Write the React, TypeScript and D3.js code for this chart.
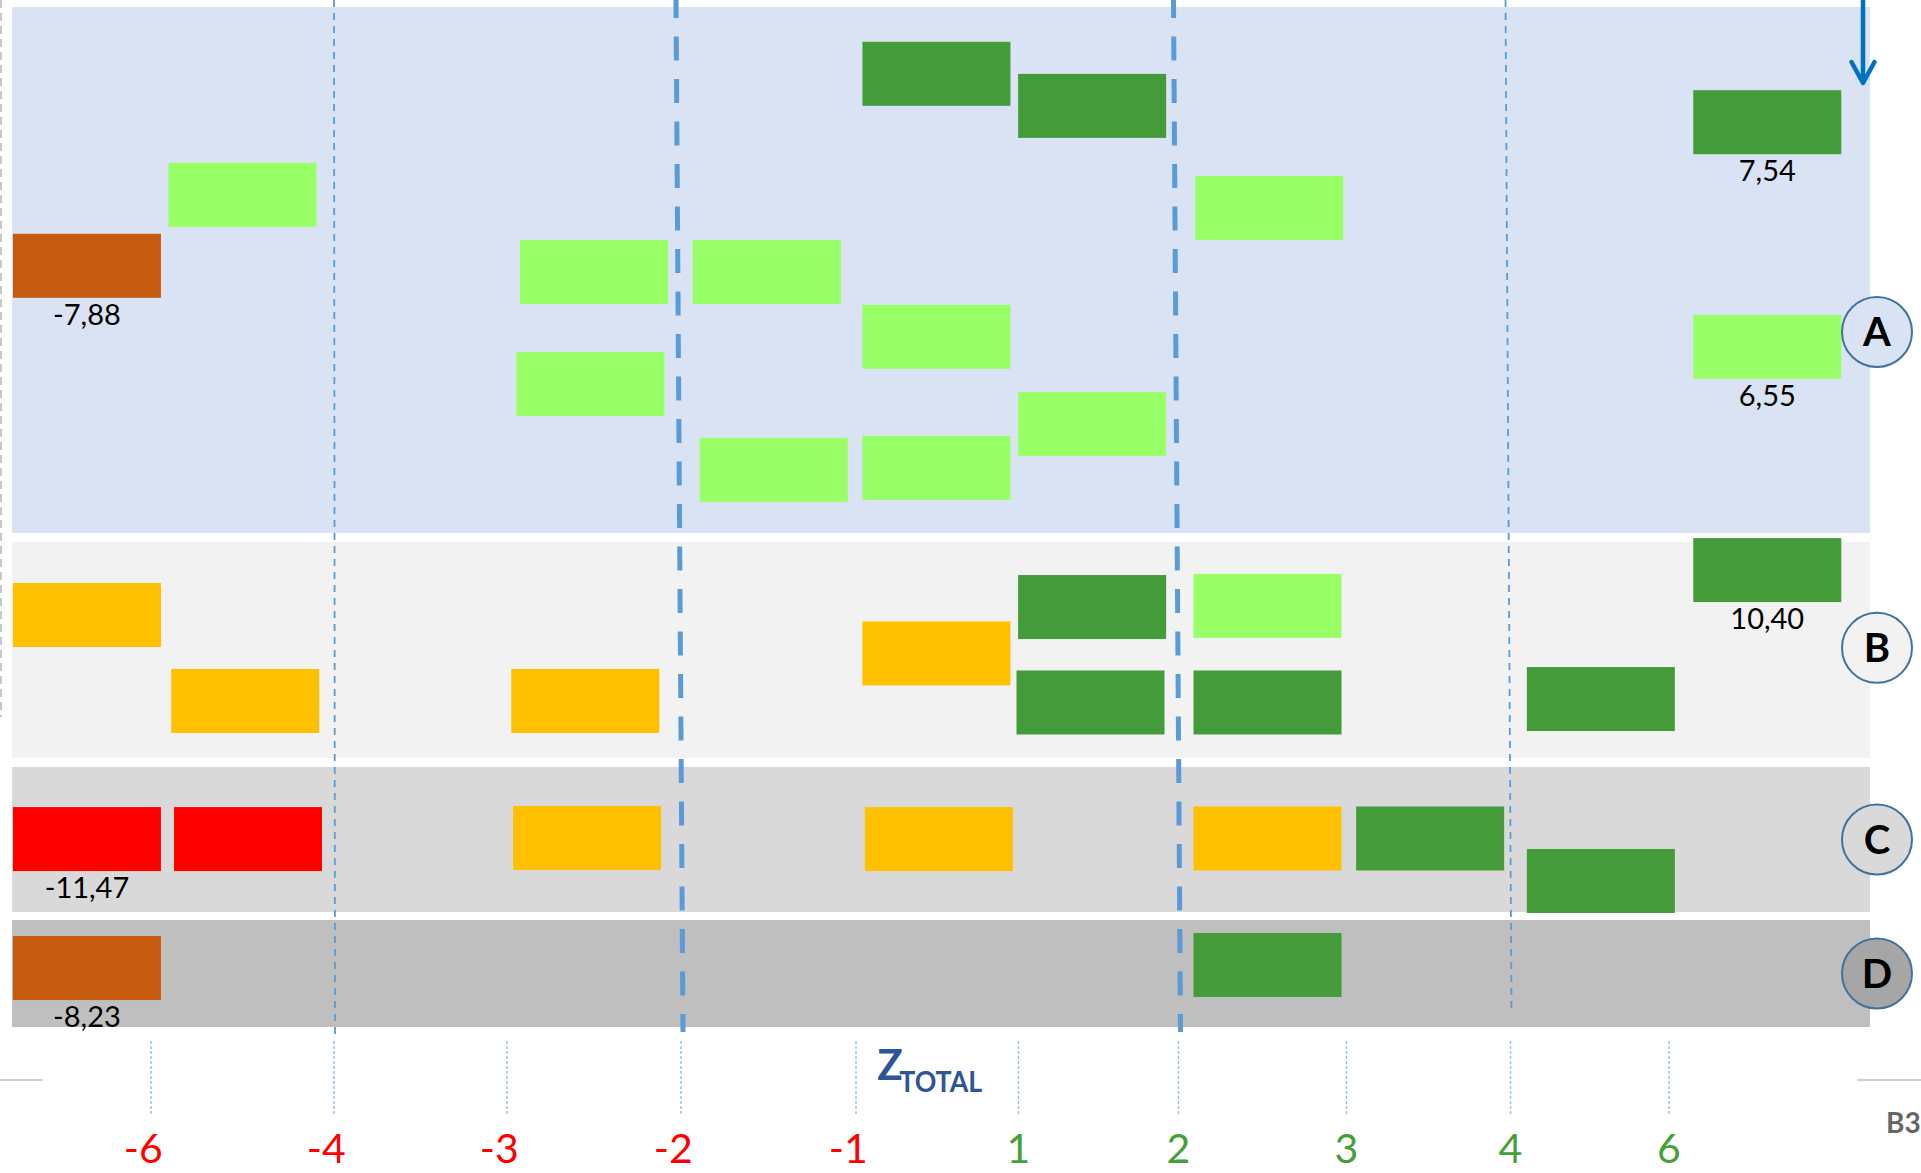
import React from "react";
import * as d3 from "d3";

// ---- data ----
const rows = ["A", "B", "C", "D"];
const tickValues = [-6, -4, -3, -2, -1, 1, 2, 3, 4, 6];
const strongCuts = [-2, 2];
const weakCuts = [-4, 4];

// grade: 1 red, 2 brown, 3 amber, 4 light green, 5 dark green
// lane: vertical place of the box centre inside its row (0 top .. 1 bottom)
const rowA = [
  { z: -5.0, lane: 0.357, grade: 4 },
  { z: -7.88, lane: 0.492, grade: 2, shown: true },
  { z: -2.5, lane: 0.504, grade: 4 },
  { z: -1.51, lane: 0.504, grade: 4 },
  { z: -2.52, lane: 0.717, grade: 4 },
  { z: -1.47, lane: 0.88, grade: 4 },
  { z: -0.01, lane: 0.876, grade: 4 },
  { z: -0.01, lane: 0.627, grade: 4 },
  { z: -0.01, lane: 0.127, grade: 5 },
  { z: 1.46, lane: 0.188, grade: 5 },
  { z: 1.46, lane: 0.793, grade: 4 },
  { z: 2.54, lane: 0.382, grade: 4 },
  { z: 7.54, lane: 0.219, grade: 5, shown: true },
  { z: 6.55, lane: 0.646, grade: 4, shown: true },
];
const rowB = [
  { z: -6.69, lane: 0.338, grade: 3 },
  { z: -4.97, lane: 0.736, grade: 3 },
  { z: -2.55, lane: 0.736, grade: 3 },
  { z: -0.01, lane: 0.516, grade: 3 },
  { z: 1.46, lane: 0.301, grade: 5 },
  { z: 1.45, lane: 0.743, grade: 5 },
  { z: 2.53, lane: 0.296, grade: 4 },
  { z: 2.53, lane: 0.743, grade: 5 },
  { z: 5.14, lane: 0.727, grade: 5 },
  { z: 10.4, lane: 0.13, grade: 5, shown: true },
];
const rowC = [
  { z: -11.47, lane: 0.497, grade: 1, shown: true },
  { z: -4.94, lane: 0.497, grade: 1 },
  { z: -2.54, lane: 0.49, grade: 3 },
  { z: 0.02, lane: 0.497, grade: 3 },
  { z: 2.53, lane: 0.493, grade: 3 },
  { z: 3.51, lane: 0.493, grade: 5 },
  { z: 5.14, lane: 0.786, grade: 5 },
];
const rowD = [
  { z: -8.23, lane: 0.449, grade: 2, shown: true },
  { z: 2.53, lane: 0.42, grade: 5 },
];
const boxesByRow = [rowA, rowB, rowC, rowD];

// ---- layout / style ----
const W = 1921;
const H = 1173;
const tickStops = [151, 334, 507, 681, 856, 1018.5, 1178.5, 1346.5, 1510.5, 1669];
const overflowLo = -6.7; // slot used for anything below -6
const overflowHi = 7.24; // slot used for anything above 6
const bandLeft = 12;
const bandRight = 1870;
const rowExtents = [
  [7, 533],
  [542, 758],
  [767, 912],
  [920, 1027],
];
const rowFills = ["#DAE3F3", "#F2F2F2", "#D9D9D9", "#BFBFBF"];
const badgeFills = ["#DAE3F3", "#F2F2F2", "#D9D9D9", "#A6A6A6"];
const badgeAt = [0.618, 0.49, 0.5, 0.5];
const gradeColors = { 1: "#FF0000", 2: "#C55A11", 3: "#FFC000", 4: "#99FF66", 5: "#449B3A" };
const boxW = 148;
const boxH = 64;
const font = "Lato, 'Open Sans', sans-serif";
const tickFont = 41;

const fmt = d3
  .formatLocale({ decimal: ",", thousands: ".", grouping: [3], currency: ["", ""], minus: "-" })
  .format(".2f");

export default function App() {
  const x = d3.scaleLinear().domain(tickValues).range(tickStops);
  const xPos = (z: number) => (z < -6 ? x(overflowLo) : z > 6 ? x(overflowHi) : x(z));
  const rowY = rows.map((_, i) => d3.scaleLinear().domain([0, 1]).range(rowExtents[i]));

  const axisTop = 1041;
  const axisBottom = 1116;
  const cutBottom = 1032;
  const halfDigit = tickFont * 0.29;

  return (
    <svg
      width={W}
      height={H}
      style={{ position: "absolute", left: 0, top: 0, background: "#fff" }}
      fontFamily={font}
    >
      {/* faint page guides */}
      <line x1={1} x2={1} y1={0} y2={717} stroke="#C8C8C8" strokeWidth={2} strokeDasharray="8,5" />
      <line x1={0} x2={43} y1={1080} y2={1080} stroke="#D0D0D0" strokeWidth={2} />
      <line x1={1857} x2={W} y1={1080} y2={1080} stroke="#D0D0D0" strokeWidth={2} />

      {/* row bands */}
      {rows.map((r, i) => (
        <rect
          key={r}
          x={bandLeft}
          y={rowExtents[i][0]}
          width={bandRight - bandLeft}
          height={rowExtents[i][1] - rowExtents[i][0]}
          fill={rowFills[i]}
        />
      ))}

      {/* weak cut lines */}
      {weakCuts.map((v) => (
        <line
          key={v}
          x1={x(v) - (v > 0 ? 5 : 0)}
          x2={x(v) + 1}
          y1={0}
          y2={v > 0 ? 1012 : 1038}
          stroke="#5B9BD5"
          strokeWidth={1.8}
          strokeDasharray="7,6"
        />
      ))}

      {/* boxes */}
      {boxesByRow.map((list, ri) =>
        list.map((d, i) => {
          const cx = xPos(d.z);
          const cy = rowY[ri](d.lane);
          return (
            <g key={`${rows[ri]}-${i}`}>
              <rect
                x={cx - boxW / 2}
                y={cy - boxH / 2}
                width={boxW}
                height={boxH}
                fill={gradeColors[d.grade]}
              />
              {d.shown && (
                <text x={cx} y={cy + boxH / 2 + 27} textAnchor="middle" fontSize={29} fill="#000">
                  {fmt(d.z)}
                </text>
              )}
            </g>
          );
        })
      )}

      {/* strong cut lines */}
      {strongCuts.map((v) => (
        <line
          key={v}
          x1={x(v) - 5}
          x2={x(v) + 2}
          y1={0}
          y2={cutBottom}
          stroke="#5B9BD5"
          strokeWidth={5}
          strokeDasharray="24,18.5"
          strokeDashoffset={6}
        />
      ))}

      {/* row badges */}
      {rows.map((r, i) => {
        const cy = rowY[i](badgeAt[i]);
        return (
          <g key={`badge-${r}`}>
            <circle cx={1877} cy={cy} r={35} fill={badgeFills[i]} stroke="#41719C" strokeWidth={2} />
            <text x={1877} y={cy + 14} textAnchor="middle" fontSize={40} fontWeight="bold" fill="#000">
              {r}
            </text>
          </g>
        );
      })}

      {/* arrow */}
      <g stroke="#0070C0" strokeWidth={4.5} fill="none" strokeLinecap="round" strokeLinejoin="round">
        <line x1={1863} x2={1863} y1={0} y2={82} />
        <polyline points="1851.5,62 1863,83 1874.5,62" />
      </g>

      {/* axis: dashed tick stubs, digit centred on the tick */}
      {tickValues.map((v) => (
        <g key={`t${v}`}>
          <line
            x1={x(v)}
            x2={x(v)}
            y1={axisTop}
            y2={axisBottom}
            stroke="#9DC3E6"
            strokeWidth={1.5}
            strokeDasharray="3,2"
          />
          <text
            x={v < 0 ? x(v) + halfDigit : x(v)}
            y={1163}
            textAnchor={v < 0 ? "end" : "middle"}
            fontSize={tickFont}
            fill={v < 0 ? "#FF0000" : "#45A03A"}
          >
            {v < 0 ? `-${Math.abs(v)}` : v}
          </text>
        </g>
      ))}

      {/* axis title */}
      <text x={x(0) - 60} y={1080} fontSize={42} fontWeight="bold" fill="#2F5597">
        Z
      </text>
      <text
        x={x(0) - 38}
        y={1092}
        fontSize={29}
        fontWeight="bold"
        fill="#2F5597"
        textLength={83}
        lengthAdjust="spacingAndGlyphs"
      >
        TOTAL
      </text>

      <text x={1886} y={1133} fontSize={28} fontWeight="bold" fill="#666666">
        B3
      </text>
    </svg>
  );
}
